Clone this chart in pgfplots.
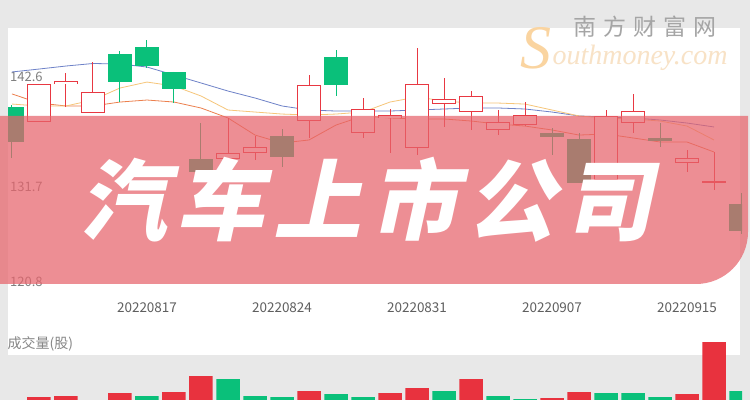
\documentclass[border=0pt]{standalone}
\usepackage{fontspec}
\setmainfont{Noto Sans CJK SC}
\newfontfamily\bannerfont{Noto Sans CJK SC}[FakeSlant=0.22]
\newfontfamily\serifit{Liberation Serif}
\usepackage{pgfplots}
\usepackage{pgfplotstable}
\pgfplotsset{compat=1.18}

\definecolor{bggray}{RGB}{232,232,232}
\definecolor{upred}{RGB}{232,56,66}
\definecolor{downgreen}{RGB}{10,192,122}
\definecolor{volred}{RGB}{232,50,62}
\definecolor{banner}{RGB}{231,99,107}
\definecolor{maBlue}{RGB}{110,130,200}
\definecolor{maOrange}{RGB}{236,128,78}
\definecolor{maYellow}{RGB}{246,198,122}
\definecolor{lblgray}{RGB}{95,95,95}
\definecolor{wmgray}{RGB}{165,165,165}
\definecolor{wmorange}{RGB}{250,212,160}
\definecolor{wmlight}{RGB}{248,226,198}

% rising days: i open close high low
\pgfplotstableread{
i o c h l
1 138.14 141.91 141.91 138.14
2 141.91 142.20 143.00 139.63
3 139.03 141.11 144.09 139.03
8 134.47 135.07 138.54 134.08
9 135.07 135.66 136.75 134.38
11 138.24 141.81 142.80 136.56
13 137.05 139.43 140.52 136.56
14 138.54 138.83 139.43 135.07
15 135.56 141.91 145.47 134.87
16 139.92 140.42 142.50 137.65
17 139.13 140.72 141.21 137.35
18 137.35 138.14 139.33 136.85
19 137.84 138.83 140.12 137.74
22 132.39 138.74 139.33 132.39
23 138.04 139.23 140.92 137.05
25 134.08 134.57 135.37 133.19
26 132.10 132.29 135.17 131.40
}\uptab

% falling days
\pgfplotstableread{
i o c h l
0 139.63 136.16 139.80 134.57
4 144.88 142.10 145.18 140.12
5 145.57 143.69 146.27 143.49
6 143.10 141.41 143.10 140.02
7 134.47 133.19 138.04 133.00
10 136.75 134.67 137.45 133.68
12 144.58 141.81 145.28 140.72
20 137.05 136.65 137.55 134.87
21 136.46 132.10 137.05 132.10
24 136.56 136.26 138.04 135.66
27 130.01 127.34 131.10 127.00
}\downtab

% moving averages
\pgfplotstableread{
i blue orange yellow
0 143.10 140.92 139.92
1 143.39 140.02 139.73
2 143.69 139.73 139.73
3 143.94 139.73 140.32
4 143.89 140.12 141.51
5 143.59 140.32 142.10
6 142.80 140.12 141.71
7 142.01 139.53 140.72
8 141.21 138.54 139.33
9 140.52 136.85 139.13
10 139.73 136.06 138.93
11 139.33 136.36 138.83
12 139.23 137.84 138.93
13 139.23 138.74 139.13
14 139.23 138.54 140.12
15 139.33 138.44 140.62
16 139.43 138.44 140.22
17 139.53 138.24 140.02
18 139.53 137.94 140.02
19 139.43 137.74 139.92
20 139.13 137.35 139.33
21 138.74 136.85 138.74
22 138.64 136.95 138.54
23 138.54 136.56 138.44
24 138.34 136.16 138.24
25 138.04 136.16 137.74
26 137.65 135.17 136.36
}\matab

% volume
\pgfplotstableread{
i v
1 8
2 9
3 4
4 12
6 13
7 29
11 14
14 12
15 17
17 26
20 7
21 13
25 11
26 63
}\volup
\pgfplotstableread{
i v
0 3
5 9
8 26
9 9
10 8
12 11
13 8
16 14
18 9
19 6
22 12
23 12
24 8
27 14
}\voldown

\pgfplotsset{
  kbase/.style={
    scale only axis, width=734bp,
    xmin=-0.148, xmax=27.037,
    axis line style={draw=none},
    major tick length=0pt,
    /pgf/number format/assume math mode=true,
  },
  body/.style={draw=none, no markers,
    error bars/.cd, y dir=both, y explicit, error mark=none},
}

\begin{document}
\begin{tikzpicture}
\useasboundingbox (0,0) rectangle (750bp,400bp);
\clip (0,0) rectangle (750bp,400bp);
\fill[bggray] (0,0) rectangle (750bp,400bp);
\fill[white] (8bp,45bp) rectangle (740bp,372bp);

\begin{axis}[kbase,
  at={(8bp,45bp)}, anchor=south west, height=325bp,
  ymin=115.05, ymax=147.26,
  ytick={142.6,131.7},
  extra y ticks={120.8},
  extra y tick style={yticklabel style={yshift=15bp}},
  yticklabel style={anchor=west, inner sep=0pt, xshift=2bp,
    font=\fontsize{13bp}{13bp}\selectfont, text=lblgray!80},
  xtick={5,10,15,20,25},
  xticklabels={20220817,20220824,20220831,20220907,20220915},
  xticklabel style={anchor=center, yshift=47bp,
    font=\fontsize{13.5bp}{13.5bp}\selectfont, text=lblgray},
]
\addplot[maBlue, line width=0.8bp] table[x=i, y=blue] {\matab};
\addplot[maOrange, line width=0.8bp] table[x=i, y=orange] {\matab};
\addplot[maYellow, line width=0.8bp] table[x=i, y=yellow] {\matab};
% wicks
\addplot[body, error bar style={line width=1bp, draw=downgreen}]
  table[x=i, y=o, y error plus expr={\thisrow{h}-\thisrow{o}},
        y error minus expr={\thisrow{o}-\thisrow{l}}] {\downtab};
\addplot[body, error bar style={line width=1bp, draw=upred}]
  table[x=i, y=c, y error plus expr={\thisrow{h}-\thisrow{c}},
        y error minus expr={\thisrow{c}-\thisrow{l}}] {\uptab};
% bodies
\addplot[body, error bar style={line width=24bp, draw=downgreen}]
  table[x=i, y expr={(\thisrow{o}+\thisrow{c})/2},
        y error expr={abs(\thisrow{o}-\thisrow{c})/2}] {\downtab};
\addplot[body, error bar style={line width=24bp, draw=upred}]
  table[x=i, y expr={(\thisrow{o}+\thisrow{c})/2},
        y error expr={abs(\thisrow{o}-\thisrow{c})/2}] {\uptab};
\addplot[body, error bar style={line width=22bp, draw=white}]
  table[x=i, y expr={(\thisrow{o}+\thisrow{c})/2},
        y error expr={max(abs(\thisrow{o}-\thisrow{c})/2-0.1,0)}] {\uptab};
\end{axis}

\begin{axis}[kbase,
  at={(8bp,0bp)}, anchor=south west, height=70bp,
  ymin=5, ymax=75, xtick=\empty, ytick=\empty,
]
\addplot[ybar, bar width=23.5bp, bar shift=0pt, fill=volred, draw=none]
  table[x=i, y=v] {\volup};
\addplot[ybar, bar width=23.5bp, bar shift=0pt, fill=downgreen, draw=none]
  table[x=i, y=v] {\voldown};
\end{axis}

\node[anchor=west, text=lblgray!75, font=\fontsize{14bp}{14bp}\selectfont]
  at (4bp,56bp) {成交量(股)};

% banner
\fill[banner, opacity=0.72] (0bp,284bp) -- (748bp,284bp) -- (748bp,168bp)
  arc[start angle=0, end angle=-90, radius=52bp] -- (0bp,116bp) -- cycle;
\node[text=white, font=\bannerfont\bfseries\fontsize{88bp}{90bp}\selectfont]
  at (366bp,200bp) {汽\hspace{9bp}车\hspace{9bp}上\hspace{9bp}市\hspace{9bp}公\hspace{9bp}司};

% watermark
\node[text=wmorange, font=\serifit\itshape\fontsize{62bp}{62bp}\selectfont]
  at (536bp,352bp) {S};
\node[anchor=base west, text=wmlight, font=\serifit\itshape\fontsize{28bp}{28bp}\selectfont]
  at (549bp,335bp) {outhmoney.com};
\node[text=wmgray, font=\fontsize{23bp}{23bp}\selectfont]
  at (645bp,373bp) {南\hspace{7bp}方\hspace{7bp}财\hspace{7bp}富\hspace{7bp}网};
\end{tikzpicture}
\end{document}
